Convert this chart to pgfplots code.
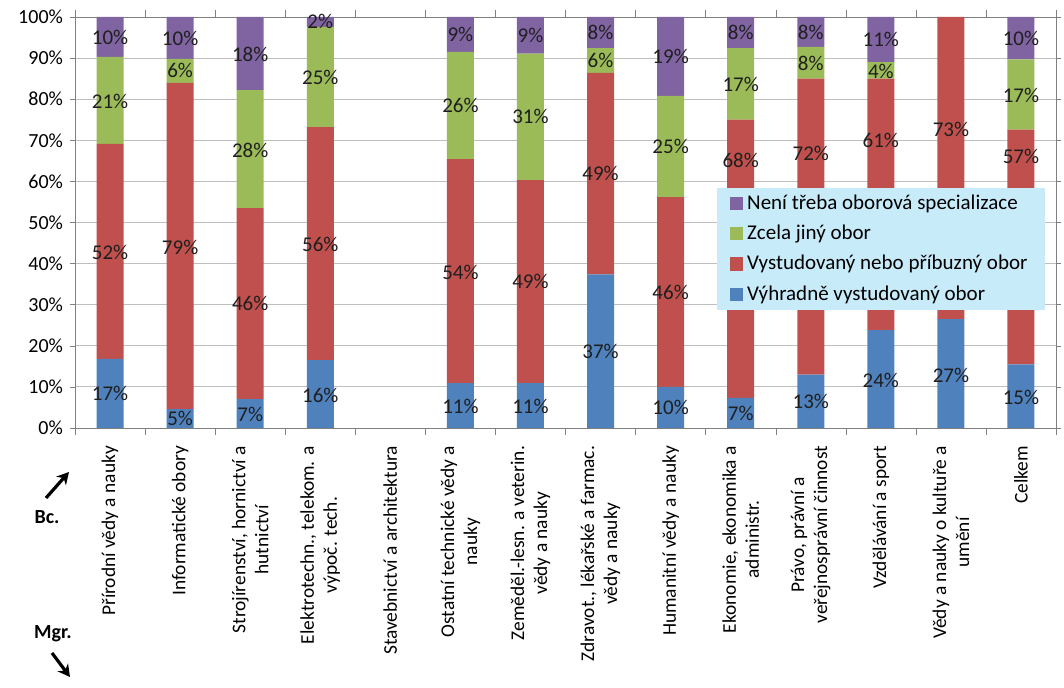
\documentclass[border=0pt]{standalone}
\usepackage{pgfplots}
\pgfplotsset{compat=1.18}
\usepackage{pgfplotstable}
\usepackage{fontspec}
\setmainfont{Carlito}
\usetikzlibrary{arrows.meta}
\definecolor{cblue}{HTML}{4F81BD}
\definecolor{cred}{HTML}{C0504D}
\definecolor{cgreen}{HTML}{9BBB59}
\definecolor{cpurple}{HTML}{8064A2}
\definecolor{legbg}{RGB}{200,235,250}

\pgfplotstableread{
x b r g p
1 16.8 52.3 21.2 9.7
2 4.6 79.4 5.8 10.2
3 7.0 46.5 28.7 17.8
4 16.5 56.7 24.4 2.4
5 0 0 0 0
6 10.9 54.5 26.1 8.5
7 10.9 49.4 30.8 8.9
8 37.4 49.0 6.0 7.6
9 10.0 46.2 24.6 19.2
10 7.3 67.7 17.4 7.6
11 13.0 72.0 7.7 7.3
12 23.8 61.2 4.0 11.0
13 26.5 73.5 0 0
14 15.5 57.1 17.1 10.3
}\data

\pgfplotstableread{
x y t
1 8.4 17
1 42.7 52
1 79.5 21
1 95.0 10
2 2.3 5
2 44.0 79
2 86.9 6
2 94.9 10
3 3.3 7
3 30.2 46
3 67.5 28
3 91.0 18
4 8.0 16
4 44.6 56
4 85.3 25
4 98.8 2
6 5.3 11
6 37.9 54
6 78.4 26
6 95.7 9
7 5.3 11
7 35.6 49
7 75.7 31
7 95.5 9
8 18.7 37
8 61.9 49
8 89.4 6
8 96.2 8
9 5.0 10
9 33.1 46
9 68.5 25
9 90.4 19
10 3.6 7
10 65.0 68
10 83.7 17
10 96.2 8
11 6.4 13
11 66.9 72
11 88.8 8
11 96.2 8
12 11.6 24
12 70.0 61
12 86.8 4
12 94.5 11
13 12.7 27
13 72.7 73
14 7.5 15
14 66.0 57
14 81.0 17
14 94.7 10
}\labels

\begin{document}
\begin{tikzpicture}
\path[use as bounding box] (-37.5pt,-130pt) rectangle (494.5pt,214pt);
\begin{axis}[
  at={(0pt,0pt)}, anchor=south west,
  width=490.5pt, height=205.5pt, scale only axis,
  xmin=0.5, xmax=14.5, ymin=0, ymax=100,
  ybar stacked, bar width=13.5pt,
  axis line style={gray},
  font=\fontsize{10}{12}\selectfont,
  ytick={0,10,...,100},
  yticklabels={0\%,10\%,20\%,30\%,40\%,50\%,60\%,70\%,80\%,90\%,100\%},
  ymajorgrids, grid style={gray!50},
  tick align=outside, major tick length=2.5pt,
  ytick style={draw=gray},
  xtick={1,...,14},
  xtick style={draw=none},
  extra x ticks={0.5,1.5,...,14.5},
  extra x tick labels={},
  extra x tick style={grid=none, major tick length=3.5pt, xtick style={draw=gray}},
  xticklabel shift=3pt,
  xticklabel style={rotate=90, anchor=east, align=center, font=\fontsize{9.7}{11.5}\selectfont},
  xticklabels={{Přírodní vědy a nauky},{Informatické obory},{Strojírenství, hornictví a\\hutnictví},{Elektrotechn., telekom. a\\výpoč. tech.},{Stavebnictví a architektura},{Ostatní technické vědy a\\nauky},{Zeměděl.-lesn. a veterin.\\vědy a nauky},{Zdravot., lékařské a farmac.\\vědy a nauky},{Humanitní vědy a nauky},{Ekonomie, ekonomika a\\administr.},{Právo, právní a\\veřejnosprávní činnost},{Vzdělávání a sport},{Vědy a nauky o kultuře a\\umění},{Celkem}},
  reverse legend,
  legend cell align=left,
  legend style={at={(rel axis cs:0.654,0.586)}, anchor=north west, draw=none, fill=legbg,
    font=\fontsize{10.5}{12.5}\selectfont, inner xsep=6.5pt, inner ysep=1.5pt, row sep=2.4pt},
]
\addplot[fill=cblue, draw=none, legend image code/.code={\fill[cblue] (0pt,-3.3pt) rectangle (6.6pt,3.3pt);}] table[x=x,y=b] {\data};
\addplot[fill=cred, draw=none, legend image code/.code={\fill[cred] (0pt,-3.3pt) rectangle (6.6pt,3.3pt);}] table[x=x,y=r] {\data};
\addplot[fill=cgreen, draw=none, legend image code/.code={\fill[cgreen] (0pt,-3.3pt) rectangle (6.6pt,3.3pt);}] table[x=x,y=g] {\data};
\addplot[fill=cpurple, draw=none, legend image code/.code={\fill[cpurple] (0pt,-3.3pt) rectangle (6.6pt,3.3pt);}] table[x=x,y=p] {\data};
\legend{Výhradně vystudovaný obor,Vystudovaný nebo příbuzný obor,Zcela jiný obor,Není třeba oborová specializace}
\end{axis}
\begin{axis}[
  at={(0pt,0pt)}, anchor=south west,
  width=490.5pt, height=205.5pt, scale only axis,
  xmin=0.5, xmax=14.5, ymin=0, ymax=100,
  hide axis, clip=false,
]
\addplot[only marks, mark=none, nodes near coords={\pgfplotspointmeta\%}, point meta=explicit symbolic,
  nodes near coords style={anchor=center, font=\fontsize{10.5}{12.5}\selectfont, text=black!88}]
  table[x=x, y=y, meta=t] {\labels};
\end{axis}
\node[font=\fontsize{10}{12}\selectfont\bfseries] at (-14pt,-44.5pt) {Bc.};
\node[font=\fontsize{10}{12}\selectfont\bfseries] at (-11pt,-103pt) {Mgr.};
\draw[line width=1.6pt, -{Stealth[length=6pt,width=6.5pt]}] (-14.5pt,-35pt) -- (-3pt,-22pt);
\draw[line width=1.6pt, -{Stealth[length=6pt,width=6.5pt]}] (-11.5pt,-112.5pt) -- (-2.5pt,-124.5pt);
\end{tikzpicture}
\end{document}
